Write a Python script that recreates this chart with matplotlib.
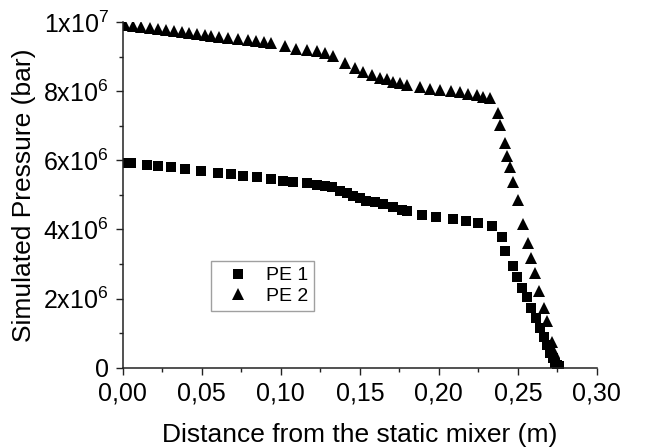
import matplotlib
matplotlib.use("Agg")
import matplotlib.pyplot as plt
from matplotlib.ticker import MultipleLocator

plt.rcParams["font.family"] = ["Liberation Sans", "DejaVu Sans"]
plt.rcParams["mathtext.default"] = "regular"

# PE 1 (squares): distance (m), pressure (x1e6 bar)
pe1_x = [0.0013, 0.0055, 0.0154, 0.0220, 0.0308, 0.0392, 0.0498, 0.0603, 0.0684,
         0.0761, 0.0850, 0.0935, 0.1011, 0.1078, 0.1166, 0.1226, 0.1278, 0.1321,
         0.1373, 0.1416, 0.1458, 0.1500, 0.1542, 0.1595, 0.1647, 0.1711, 0.1764,
         0.1796, 0.1891, 0.1985, 0.2091, 0.2171, 0.2249, 0.2334, 0.2397, 0.2418,
         0.2466, 0.2496, 0.2524, 0.2555, 0.2580, 0.2612, 0.2639, 0.2665, 0.2685,
         0.2703, 0.2720, 0.2734, 0.2749, 0.2759]
pe1_y = [5.92, 5.92, 5.87, 5.84, 5.80, 5.75, 5.70, 5.64, 5.61,
         5.56, 5.51, 5.46, 5.41, 5.37, 5.34, 5.29, 5.26, 5.22,
         5.10, 5.05, 4.97, 4.90, 4.83, 4.78, 4.73, 4.66, 4.57,
         4.52, 4.42, 4.36, 4.30, 4.25, 4.20, 4.10, 3.79, 3.39,
         2.93, 2.62, 2.30, 2.06, 1.73, 1.44, 1.15, 0.89, 0.66,
         0.44, 0.28, 0.15, 0.08, 0.04]

# PE 2 (triangles)
pe2_x = [0.0013, 0.0065, 0.0118, 0.0175, 0.0223, 0.0276, 0.0323, 0.0372, 0.0420,
         0.0470, 0.0519, 0.0561, 0.0610, 0.0666, 0.0730, 0.0793, 0.0842, 0.0892,
         0.0941, 0.1025, 0.1099, 0.1163, 0.1226, 0.1278, 0.1331, 0.1405, 0.1468,
         0.1521, 0.1574, 0.1627, 0.1669, 0.1711, 0.1753, 0.1796, 0.1880, 0.1943,
         0.2006, 0.2080, 0.2133, 0.2185, 0.2239, 0.2280, 0.2323, 0.2375, 0.2386,
         0.2418, 0.2432, 0.2449, 0.2470, 0.2502, 0.2534, 0.2565, 0.2580, 0.2608,
         0.2633, 0.2665, 0.2685, 0.2713, 0.2728, 0.2741, 0.2751]
pe2_y = [9.91, 9.88, 9.85, 9.82, 9.79, 9.76, 9.74, 9.71, 9.68,
         9.65, 9.62, 9.60, 9.57, 9.54, 9.51, 9.47, 9.44, 9.41,
         9.38, 9.31, 9.23, 9.19, 9.16, 9.11, 9.02, 8.82, 8.66,
         8.56, 8.47, 8.39, 8.34, 8.27, 8.23, 8.18, 8.11, 8.05,
         8.03, 8.01, 7.97, 7.92, 7.89, 7.84, 7.79, 7.36, 7.02,
         6.49, 6.13, 5.80, 5.36, 4.84, 4.15, 3.60, 3.17, 2.74,
         2.23, 1.72, 1.34, 0.76, 0.47, 0.23, 0.09]

x_ticks = [0.00, 0.05, 0.10, 0.15, 0.20, 0.25, 0.30]
x_labels = ["0,00", "0,05", "0,10", "0,15", "0,20", "0,25", "0,30"]
y_ticks = [0, 2e6, 4e6, 6e6, 8e6, 1e7]
y_labels = ["0", "2x10$^6$", "4x10$^6$", "6x10$^6$", "8x10$^6$", "1x10$^7$"]

fig = plt.figure(figsize=(6.46, 4.48), dpi=100)
ax = fig.add_axes([0.190, 0.179, 0.734, 0.772])

ax.plot(pe1_x, [v * 1e6 for v in pe1_y], "s", color="black", ms=6.8, mew=0, label="PE 1")
ax.plot(pe2_x, [v * 1e6 for v in pe2_y], "^", color="black", ms=8, mew=0, label="PE 2")

ax.set_xlim(0, 0.30)
ax.set_ylim(0, 1e7)
ax.set_xticks(x_ticks, x_labels)
ax.set_yticks(y_ticks, y_labels)
ax.xaxis.set_minor_locator(MultipleLocator(0.025))
ax.yaxis.set_minor_locator(MultipleLocator(1e6))

for s in ["top", "right"]:
    ax.spines[s].set_visible(False)
for s in ["left", "bottom"]:
    ax.spines[s].set_linewidth(1.1)
    ax.spines[s].set_color("#222222")

ax.tick_params(which="major", length=5, width=1.0, labelsize=18, color="#222222", pad=5)
ax.tick_params(which="minor", length=3, width=1.0, color="#222222")

ax.set_xlabel("Distance from the static mixer (m)", fontsize=19)
ax.set_ylabel("Simulated Pressure (bar)", fontsize=19)
ax.xaxis.set_label_coords(0.5, -0.16)
ax.yaxis.set_label_coords(-0.182, 0.5)

leg = ax.legend(loc="upper left", bbox_to_anchor=(0.186, 0.309), borderaxespad=0,
                fontsize=14, markerscale=1.0, frameon=True, fancybox=False,
                edgecolor="#888888", handlelength=2.2, handletextpad=0.35,
                borderpad=0.3, labelspacing=0.15)
leg.get_frame().set_linewidth(1.0)

fig.savefig("out.png", dpi=100)
